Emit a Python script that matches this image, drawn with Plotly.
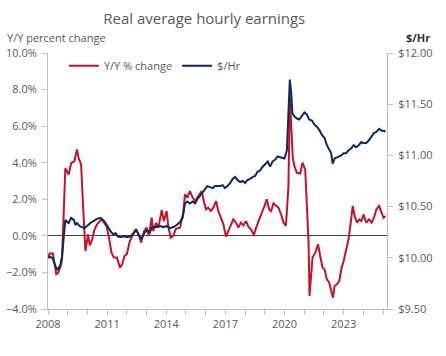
import plotly.graph_objects as go

# ---- Data ----
years_pct = [2008.00, 2008.08, 2008.25, 2008.42, 2008.50, 2008.63, 2008.71, 2008.88, 2009.05, 2009.17,
             2009.34, 2009.47, 2009.55, 2009.68, 2009.78, 2009.90, 2010.03, 2010.12, 2010.24, 2010.36,
             2010.49, 2010.70, 2010.83, 2010.97, 2011.08, 2011.22, 2011.34, 2011.50, 2011.65, 2011.77,
             2011.88, 2012.00, 2012.15, 2012.32, 2012.44, 2012.60, 2012.73, 2012.87, 2013.00, 2013.12,
             2013.26, 2013.34, 2013.48, 2013.60, 2013.77, 2013.88, 2014.02, 2014.10, 2014.22, 2014.36,
             2014.49, 2014.70, 2014.86, 2014.95, 2015.07, 2015.20, 2015.34, 2015.46, 2015.63, 2015.80,
             2015.92, 2016.02, 2016.13, 2016.26, 2016.39, 2016.53, 2016.64, 2016.77, 2016.90, 2017.03,
             2017.15, 2017.27, 2017.40, 2017.54, 2017.66, 2017.78, 2017.91, 2018.05, 2018.17, 2018.29,
             2018.45, 2018.56, 2018.68, 2018.85, 2018.98, 2019.10, 2019.22, 2019.32, 2019.44, 2019.56,
             2019.69, 2019.83, 2019.95, 2020.07, 2020.15, 2020.20, 2020.27, 2020.34, 2020.42, 2020.50,
             2020.63, 2020.80, 2020.91, 2021.05, 2021.13, 2021.22, 2021.27, 2021.36, 2021.42, 2021.56,
             2021.70, 2021.81, 2021.93, 2022.03, 2022.15, 2022.27, 2022.37, 2022.46, 2022.54, 2022.66,
             2022.78, 2022.88, 2023.00, 2023.12, 2023.25, 2023.34, 2023.46, 2023.56, 2023.68, 2023.80,
             2023.90, 2024.01, 2024.15, 2024.29, 2024.42, 2024.54, 2024.66, 2024.80, 2024.93, 2025.02,
             2025.13]
yoy_pct = [-1.19, -0.97, -0.97, -2.10, -2.05, -1.70, -1.30, 3.70, 3.36, 3.96,
           4.09, 4.73, 4.27, 3.90, 1.60, -0.83, 0.08, -0.52, -0.20, 0.35,
           0.63, 0.90, 0.75, 0.53, 0.00, -0.92, -1.19, -1.19, -1.74, -1.56,
           -1.10, -1.00, -0.28, 0.08, 0.36, 0.08, -0.37, 0.26, 0.45, 0.00,
           1.00, 0.26, 0.72, 0.45, 1.41, 0.81, 1.36, 0.54, -0.10, 0.00,
           0.39, 0.45, 1.27, 2.27, 2.09, 2.45, 2.09, 1.90, 2.17, 2.45,
           1.81, 1.45, 1.54, 1.36, 1.54, 1.90, 1.36, 0.99, 0.63, -0.04,
           0.26, 0.63, 0.90, 0.72, 0.45, 0.72, 0.57, 0.81, 0.50, 0.36,
           0.05, 0.45, 0.75, 1.27, 1.63, 2.00, 1.45, 1.36, 1.78, 1.67,
           1.54, 1.17, 0.72, 0.54, 1.63, 2.72, 7.60, 6.20, 4.27, 3.81,
           3.45, 3.41, 4.00, 3.63, 2.00, -0.37, -3.29, -2.00, -1.19, -0.92,
           -0.46, -1.10, -1.74, -1.83, -2.38, -2.56, -2.92, -3.38, -2.74, -2.65,
           -2.47, -1.83, -1.38, -0.74, -0.19, 0.54, 1.63, 1.08, 0.72, 0.90,
           0.81, 1.17, 0.72, 0.90, 0.72, 0.99, 1.45, 1.63, 1.27, 0.99,
           1.08]

years_usd = [2008.00, 2008.12, 2008.25, 2008.37, 2008.49, 2008.63, 2008.71, 2008.80, 2008.88, 2008.97,
             2009.05, 2009.17, 2009.31, 2009.39, 2009.47, 2009.61, 2009.73, 2009.85, 2009.98, 2010.15,
             2010.32, 2010.49, 2010.66, 2010.80, 2010.92, 2011.04, 2011.17, 2011.30, 2011.43, 2011.54,
             2011.68, 2011.85, 2012.00, 2012.19, 2012.36, 2012.49, 2012.61, 2012.73, 2012.87, 2013.03,
             2013.17, 2013.29, 2013.51, 2013.68, 2013.85, 2014.02, 2014.19, 2014.36, 2014.53, 2014.70,
             2014.83, 2014.95, 2015.07, 2015.20, 2015.34, 2015.46, 2015.57, 2015.71, 2015.85, 2015.97,
             2016.08, 2016.22, 2016.36, 2016.47, 2016.59, 2016.73, 2016.86, 2016.98, 2017.10, 2017.24,
             2017.37, 2017.49, 2017.61, 2017.75, 2017.88, 2018.00, 2018.12, 2018.25, 2018.39, 2018.51,
             2018.63, 2018.75, 2018.85, 2019.02, 2019.15, 2019.27, 2019.39, 2019.53, 2019.66, 2019.83,
             2020.00, 2020.12, 2020.20, 2020.27, 2020.34, 2020.40, 2020.51, 2020.63, 2020.75, 2020.88,
             2021.01, 2021.13, 2021.25, 2021.39, 2021.52, 2021.64, 2021.76, 2021.90, 2022.03, 2022.15,
             2022.27, 2022.37, 2022.44, 2022.54, 2022.66, 2022.78, 2022.88, 2023.00, 2023.12, 2023.25,
             2023.39, 2023.51, 2023.63, 2023.76, 2023.90, 2024.01, 2024.15, 2024.29, 2024.42, 2024.54,
             2024.66, 2024.80, 2024.93, 2025.05, 2025.12]
usd_hr = [10.00, 10.01, 9.99, 9.92, 9.88, 9.93, 10.01, 10.18, 10.37, 10.35,
          10.34, 10.39, 10.37, 10.32, 10.34, 10.31, 10.30, 10.29, 10.31, 10.34,
          10.36, 10.38, 10.39, 10.37, 10.34, 10.30, 10.26, 10.23, 10.24, 10.21,
          10.20, 10.21, 10.20, 10.21, 10.24, 10.27, 10.22, 10.18, 10.24, 10.27,
          10.25, 10.30, 10.30, 10.31, 10.30, 10.31, 10.29, 10.30, 10.32, 10.35,
          10.39, 10.53, 10.55, 10.53, 10.55, 10.53, 10.57, 10.60, 10.64, 10.67,
          10.70, 10.69, 10.68, 10.70, 10.70, 10.70, 10.71, 10.68, 10.70, 10.73,
          10.77, 10.79, 10.76, 10.74, 10.75, 10.73, 10.76, 10.77, 10.79, 10.80,
          10.84, 10.85, 10.88, 10.91, 10.94, 10.89, 10.94, 10.96, 10.99, 10.98,
          10.97, 11.05, 11.35, 11.74, 11.61, 11.41, 11.38, 11.36, 11.35, 11.38,
          11.42, 11.40, 11.35, 11.34, 11.30, 11.28, 11.25, 11.20, 11.17, 11.10,
          11.05, 11.02, 10.92, 10.97, 10.98, 10.99, 11.00, 11.02, 11.02, 11.05,
          11.07, 11.10, 11.08, 11.10, 11.13, 11.12, 11.12, 11.15, 11.19, 11.22,
          11.23, 11.26, 11.24, 11.24, 11.23]

RED = "#C3132B"
BLUE = "#0D2A5C"
TXT = "#595959"
AX = "#BFBFBF"
FONT = "Open Sans"

fig = go.Figure()
fig.add_trace(go.Scatter(x=years_pct, y=yoy_pct, mode="lines", name="Y/Y % change",
                         line=dict(color=RED, width=2), yaxis="y"))
fig.add_trace(go.Scatter(x=years_usd, y=usd_hr, mode="lines", name="$/Hr",
                         line=dict(color=BLUE, width=2), yaxis="y2"))

fig.update_layout(
    width=446, height=356,
    margin=dict(l=48, r=59, t=53, b=47, autoexpand=False),
    paper_bgcolor="white", plot_bgcolor="white",
    font=dict(family=FONT, size=11, color=TXT),
    title=dict(text="Real average hourly earnings", x=0.458, xanchor="center",
               y=0.946, yanchor="middle", font=dict(size=15, color=TXT)),
    showlegend=True,
    legend=dict(orientation="h", x=0.047, xanchor="left", y=1.007, yanchor="top",
                bgcolor="rgba(0,0,0,0)", font=dict(size=11, color=TXT),
                itemwidth=30, tracegroupgap=0),
    xaxis=dict(range=[2008, 2025.2], tickmode="linear", tick0=2008, dtick=3, automargin=False,
               showgrid=False, zeroline=False, showline=True, linecolor=AX, linewidth=1,
               ticks="outside", ticklen=5, tickcolor=AX, tickformat="d",
               minor=dict(tickmode="linear", tick0=2008, dtick=1, ticks="outside",
                          ticklen=5, tickcolor=AX, showgrid=False)),
    yaxis=dict(range=[-4, 10], tickmode="linear", tick0=-4, dtick=2, tickformat=".1f",
               ticksuffix="%", showgrid=False, zeroline=True, zerolinecolor="#404040",
               zerolinewidth=1, showline=True, linecolor=AX, linewidth=1, automargin=False,
               ticks="outside", ticklen=5, tickcolor=AX, ticklabelstandoff=3),
    yaxis2=dict(range=[9.5, 12], tickmode="linear", tick0=9.5, dtick=0.5, tickformat=".2f",
                tickprefix="$", overlaying="y", side="right", showgrid=False, zeroline=False,
                showline=True, linecolor=AX, linewidth=1, ticks="outside", ticklen=5,
                tickcolor=AX, ticklabelstandoff=3, automargin=False),
    annotations=[
        dict(text="Y/Y percent change", xref="paper", yref="paper", x=-43 / 339, y=1.0 + 16 / 256,
             xanchor="left", yanchor="middle", showarrow=False, font=dict(size=11, color=TXT)),
        dict(text="<b>$/Hr</b>", xref="paper", yref="paper", x=1.0 + 45 / 339, y=1.0 + 16 / 256,
             xanchor="right", yanchor="middle", showarrow=False, font=dict(size=11, color="#333333")),
    ],
)

fig.write_html("out.html", config={"displayModeBar": False},
               post_script="document.body.style.margin='0px';")
